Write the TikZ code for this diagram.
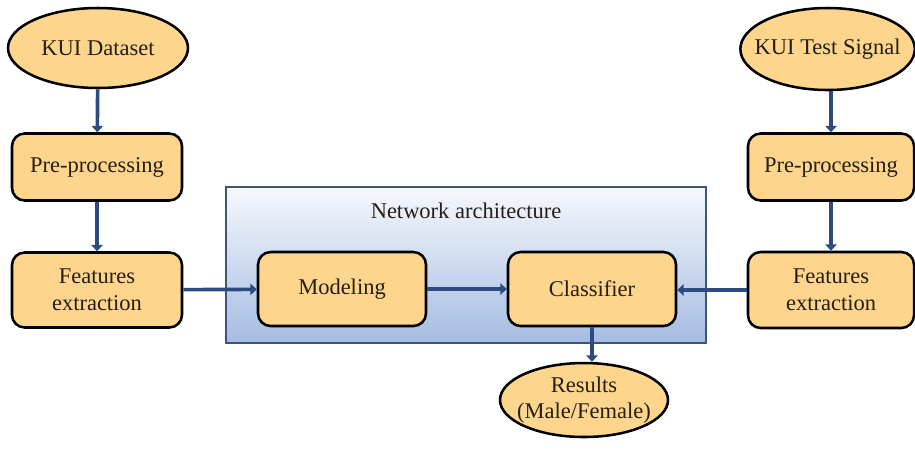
\documentclass[tikz,border=0pt]{standalone}
\usepackage{fontspec}
\setmainfont{Liberation Serif}
\usepackage{tikz}
\usetikzlibrary{arrows.meta,positioning,shapes.geometric}
\definecolor{boxfill}{RGB}{253,213,140}
\definecolor{txt}{RGB}{38,30,20}
\definecolor{flow}{RGB}{44,75,130}
\definecolor{nettop}{RGB}{246,248,253}
\definecolor{netbot}{RGB}{165,188,226}
\definecolor{netline}{RGB}{60,85,125}
\tikzset{
	stepbox/.style={draw,rectangle,rounded corners=9pt,line width=1.8pt,fill=boxfill,text=txt,align=center,font=\fontsize{16}{19}\selectfont,minimum width=4.2cm,minimum height=1.85cm},
	terminal/.style={draw,ellipse,line width=1.8pt,fill=boxfill,text=txt,align=center,font=\fontsize{16}{19}\selectfont,inner sep=1pt},
	netbox/.style={draw=netline,line width=0.8pt,rectangle,top color=nettop,bottom color=netbot,minimum width=12cm,minimum height=3.9cm},
	flowarrow/.style={flow,line width=2.6pt,-{Triangle[length=4.5pt,width=8pt]}}
}
\begin{document}
\begin{tikzpicture}
			\useasboundingbox (0,0) rectangle (22.875,-11.275);
			
			\node[netbox] (net) at (11.65,-6.625) {};
			\node[text=txt,font=\fontsize{16}{19}\selectfont] (nettitle) at (11.65,-5.275) {Network architecture};
			
			% training side
			\node[terminal,minimum width=4.5cm,minimum height=2cm] (data) at (2.45,-1.2) {KUI Dataset};
			\node[stepbox,minimum width=4.25cm,minimum height=1.675cm] (preL) at (2.425,-4.175) {Pre-processing};
			\node[stepbox,minimum width=4.25cm,minimum height=1.875cm] (featL) at (2.425,-7.25) {Features\\extraction};
			
			% network
			\node[stepbox] (model) at (8.55,-7.225) {Modeling};
			\node[stepbox] (clf) at (14.8,-7.225) {Classifier};
			\node[terminal,inner xsep=-6pt,inner ysep=0pt,minimum width=4.2cm,minimum height=1.85cm] (res) at (14.6,-10.0) {Results\\(Male/Female)};
			
			% test side
			\node[terminal,inner xsep=-8pt,minimum width=4.3cm,minimum height=2.05cm] (test) at (20.69,-1.225) {KUI Test Signal};
			\node[stepbox,minimum width=4.15cm,minimum height=1.675cm] (preR) at (20.775,-4.175) {Pre-processing};
			\node[stepbox,minimum width=4.15cm,minimum height=1.9cm] (featR) at (20.775,-7.25) {Features\\extraction};
			
			\draw[flowarrow] (data) -- (preL);
			\draw[flowarrow] (preL) -- (featL);
			\draw[flowarrow] (featL) -- (model);
			\draw[flowarrow] (model) -- (clf);
			\draw[flowarrow] (test.south -| preR.north) -- (preR);
			\draw[flowarrow] (preR) -- (featR);
			\draw[flowarrow] (featR.west) -- (featR.west -| clf.east);
			\draw[flowarrow] (clf.south) -- (clf.south |- res.north);
		\end{tikzpicture}
\end{document}
